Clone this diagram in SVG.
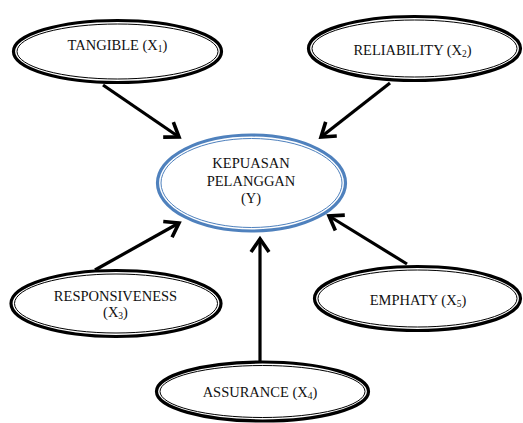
<svg xmlns="http://www.w3.org/2000/svg" width="523" height="423" viewBox="0 0 523 423">
<style>
.o{fill:#fff;stroke:#000;stroke-width:3.2}
.i{fill:none;stroke:#000;stroke-width:1}
.bo{fill:#fff;stroke:#4f81bd;stroke-width:3.2}
.bi{fill:none;stroke:#4f81bd;stroke-width:1}
.t{font-family:"Liberation Serif","Times New Roman",serif;font-size:14.5px;fill:#111;text-anchor:middle}
.s{font-size:9.5px}
.c{stroke:#000;stroke-width:3.2;fill:none;marker-end:url(#ah)}
</style>
<defs>
<marker id="ah" markerUnits="userSpaceOnUse" markerWidth="30" markerHeight="30" viewBox="-20 -15 30 30" refX="0" refY="0" orient="auto">
<path d="M-13,-9 L0,0 L-13,9" fill="none" stroke="#000" stroke-width="3.6" stroke-linejoin="miter"/>
</marker>
</defs>
<g id="connectors">
<line class="c" x1="103" y1="85" x2="179" y2="137"/>
<line class="c" x1="390" y1="83" x2="321" y2="137"/>
<line class="c" x1="95" y1="270" x2="179" y2="223"/>
<line class="c" x1="407" y1="264" x2="329" y2="216"/>
<line class="c" x1="260" y1="361" x2="260" y2="239"/>
</g>
<g id="tangible">
<ellipse class="o" cx="117.5" cy="51.5" rx="104" ry="31"/>
<ellipse class="i" cx="117.5" cy="51.5" rx="100.5" ry="27.5"/>
<text class="t" x="117.5" y="50">TANGIBLE (X<tspan class="s" dy="2">1</tspan><tspan dy="-2">)</tspan></text>
</g>
<g id="reliability">
<ellipse class="o" cx="414.5" cy="48.5" rx="106" ry="32"/>
<ellipse class="i" cx="414.5" cy="48.5" rx="102.5" ry="28.5"/>
<text class="t" x="412.5" y="55">RELIABILITY (X<tspan class="s" dy="2">2</tspan><tspan dy="-2">)</tspan></text>
</g>
<g id="kepuasan">
<ellipse class="bo" cx="251.5" cy="183" rx="94" ry="48"/>
<ellipse class="bi" cx="251.5" cy="183" rx="90.5" ry="44.5"/>
<text class="t" x="251" y="168">KEPUASAN</text>
<text class="t" x="251" y="185.5">PELANGGAN</text>
<text class="t" x="251" y="203">(Y)</text>
</g>
<g id="responsiveness">
<ellipse class="o" cx="116" cy="303.5" rx="105" ry="33"/>
<ellipse class="i" cx="116" cy="303.5" rx="101.5" ry="29.5"/>
<text class="t" x="115.5" y="301">RESPONSIVENESS</text>
<text class="t" x="115.5" y="317">(X<tspan class="s" dy="2">3</tspan><tspan dy="-2">)</tspan></text>
</g>
<g id="emphaty">
<ellipse class="o" cx="417.5" cy="298.5" rx="103" ry="32"/>
<ellipse class="i" cx="417.5" cy="298.5" rx="99.5" ry="28.5"/>
<text class="t" x="418" y="305">EMPHATY (X<tspan class="s" dy="2">5</tspan><tspan dy="-2">)</tspan></text>
</g>
<g id="assurance">
<ellipse class="o" cx="262.5" cy="391.5" rx="106" ry="29.5"/>
<ellipse class="i" cx="262.5" cy="391.5" rx="102.5" ry="26"/>
<text class="t" x="260" y="397">ASSURANCE (X<tspan class="s" dy="2">4</tspan><tspan dy="-2">)</tspan></text>
</g>
</svg>
